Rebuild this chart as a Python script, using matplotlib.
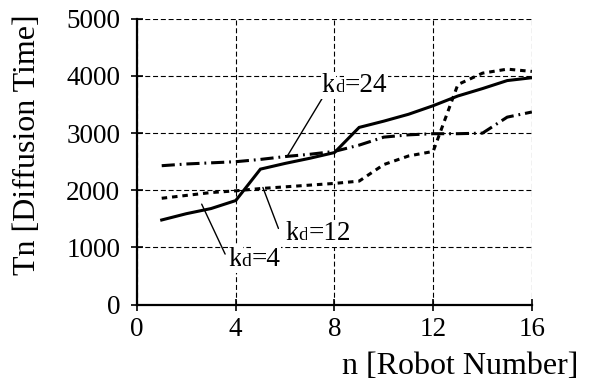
import matplotlib
matplotlib.use('Agg')
import matplotlib.pyplot as plt

plt.rcParams['font.family'] = ['Liberation Serif', 'DejaVu Serif']

# values
n = list(range(1, 17))
kd4 = [1480, 1590, 1680, 1820, 2370, 2470, 2560, 2660, 3100, 3210, 3330, 3480, 3650, 3780, 3920, 3970]
kd12 = [1860, 1910, 1960, 1990, 2030, 2060, 2090, 2120, 2160, 2450, 2600, 2680, 3850, 4050, 4120, 4080]
kd24 = [2430, 2460, 2480, 2500, 2540, 2590, 2630, 2680, 2790, 2930, 2970, 2990, 2990, 3000, 3280, 3370]
xticks = [0, 4, 8, 12, 16]
yticks = [0, 1000, 2000, 3000, 4000, 5000]

FS = 19.5
LFS = 23

fig = plt.figure(figsize=(6.01, 3.85), dpi=100)
ax = fig.add_axes([0.228, 0.209, 0.657, 0.742])

ax.plot(n, kd4, color='black', lw=2.2, solid_joinstyle='miter')
ax.plot(n, kd12, color='black', lw=2.2, ls=(0, (1.8, 1.6)), dash_capstyle='butt')
ax.plot(n, kd24, color='black', lw=2.2, ls=(0, (4.3, 1.6, 0.6, 1.6)), dash_capstyle='butt')

ax.set_xlim(0, 16)
ax.set_ylim(0, 5000)
ax.set_xticks(xticks)
ax.set_yticks(yticks)
ax.grid(True, color='black', lw=0.8, ls=(0, (4.5, 2.5)))
ax.set_axisbelow(True)
for s in ['top', 'right']:
    ax.spines[s].set_visible(False)
for s in ['left', 'bottom']:
    ax.spines[s].set_linewidth(1.6)
ax.tick_params(direction='inout', length=8, width=1.2, labelsize=FS, pad=8)
ax.tick_params(axis='x', pad=5)

box = dict(fc='white', ec='none', pad=0.5)


def label(x, y, val):
    # k, a smaller d on the same baseline, then "=val"
    parts = [('k', FS, 0), ('d', 14, 9.6), ('=' + val, FS, 16.6)]
    for txt, size, dx in parts:
        ax.annotate(txt, xy=(x, y), xytext=(dx, 0), textcoords='offset points',
                    fontsize=size, ha='left', va='baseline', bbox=box, zorder=5)


def leader(p0, p1):
    ax.annotate('', xy=p1, xytext=p0,
                arrowprops=dict(arrowstyle='-', lw=1, color='black', shrinkA=0, shrinkB=0))


leader((7.62, 3692), (6.07, 2584))
leader((5.73, 1332), (5.10, 2049))
leader((3.57, 883), (2.62, 1757))
label(7.49, 3720, '24')
label(6.0, 1125, '12')
label(3.70, 672, '4')

fig.text(28 / 601, 1 - 145 / 385, 'Tn [Diffusion Time]', fontsize=LFS, rotation=90,
         ha='center', va='center')
fig.text(460 / 601, 1 - 367 / 385, 'n [Robot Number]', fontsize=LFS, ha='center', va='center')

fig.savefig('out.png', dpi=100)
